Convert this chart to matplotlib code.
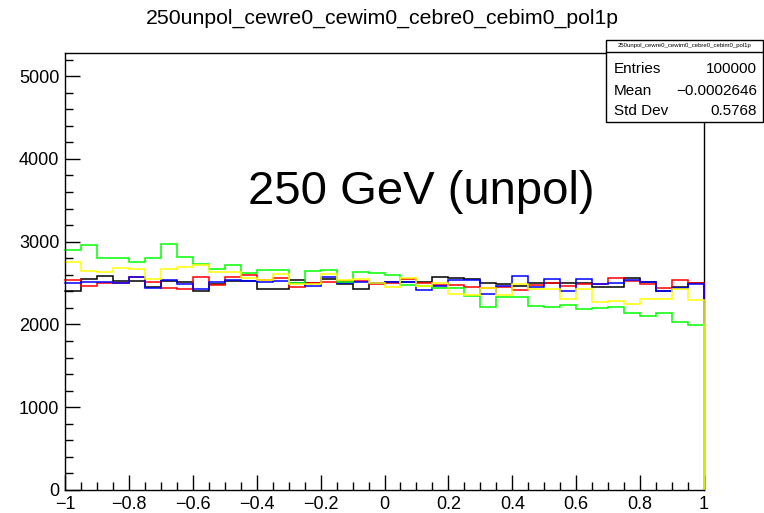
import numpy as np
import matplotlib
matplotlib.use("Agg")
import matplotlib.pyplot as plt
from matplotlib.ticker import MultipleLocator

plt.rcParams['font.family'] = ['Liberation Sans', 'DejaVu Sans']

edges = np.linspace(-1.0, 1.0, 41)

black = [2407, 2544, 2585, 2524, 2524, 2455, 2528, 2516, 2403, 2484,
         2524, 2524, 2423, 2423, 2536, 2504, 2544, 2488, 2427, 2496,
         2508, 2508, 2508, 2577, 2564, 2546, 2504, 2488, 2463, 2504,
         2504, 2504, 2504, 2454, 2450, 2565, 2515, 2400, 2455, 2500]
red = [2536, 2463, 2504, 2504, 2568, 2516, 2443, 2427, 2577, 2476,
       2577, 2597, 2540, 2564, 2455, 2504, 2516, 2524, 2528, 2488,
       2496, 2548, 2504, 2476, 2476, 2450, 2442, 2454, 2422, 2476,
       2504, 2463, 2483, 2483, 2558, 2529, 2483, 2446, 2537, 2504]
blue = [2504, 2516, 2516, 2496, 2577, 2443, 2536, 2484, 2423, 2508,
        2536, 2528, 2516, 2524, 2496, 2463, 2577, 2504, 2516, 2500,
        2508, 2508, 2415, 2467, 2540, 2540, 2368, 2463, 2590, 2454,
        2546, 2405, 2546, 2483, 2505, 2537, 2517, 2405, 2446, 2483]
green = [2895, 2965, 2800, 2800, 2757, 2798, 2975, 2818, 2735, 2675,
         2717, 2620, 2660, 2657, 2504, 2649, 2657, 2510, 2637, 2625,
         2597, 2476, 2468, 2436, 2436, 2350, 2215, 2331, 2331, 2227,
         2215, 2239, 2186, 2198, 2215, 2144, 2103, 2144, 2033, 1993]
yellow = [2757, 2649, 2637, 2677, 2665, 2544, 2665, 2689, 2717, 2637,
          2637, 2556, 2536, 2608, 2484, 2484, 2608, 2536, 2544, 2496,
          2448, 2556, 2463, 2496, 2367, 2351, 2442, 2359, 2483, 2434,
          2434, 2309, 2434, 2268, 2280, 2247, 2309, 2309, 2434, 2297]

series = [(black, 'black'), (red, '#ff0000'), (blue, '#0000ff'),
          (green, '#00ff00'), (yellow, '#ffff00')]

title = "250unpol_cewre0_cewim0_cebre0_cebim0_pol1p"
stats_labels = ["Entries", "Mean", "Std Dev"]
stats_values = ["100000", "\u22120.0002646", "0.5768"]
annotation = "250 GeV (unpol)"

W, H = 764, 513
fig = plt.figure(figsize=(W / 100, H / 100), dpi=100)
ax = fig.add_axes([65 / W, 1 - 490 / H, (704 - 65) / W, (490 - 53) / H])

for vals, col in series:
    v = np.asarray(vals, dtype=float)
    # ROOT-like outline: steps, then a drop to zero at the upper edge
    xs = np.repeat(edges, 2)[1:]
    ys = np.concatenate([np.repeat(v, 2), [0.0]])
    ax.plot(xs, ys, color=col, lw=1.1, zorder=3, clip_on=False,
            solid_joinstyle='miter')

ax.set_xlim(-1, 1)
ax.set_ylim(0, 5280)
ax.xaxis.set_major_locator(MultipleLocator(0.2))
ax.xaxis.set_minor_locator(MultipleLocator(0.05))
ax.yaxis.set_major_locator(MultipleLocator(1000))
ax.yaxis.set_minor_locator(MultipleLocator(200))
ax.tick_params(which='both', direction='in', top=False, right=False,
               labelsize=13, width=1)
ax.tick_params(which='major', length=11, pad=4)
ax.tick_params(which='minor', length=5.5)

def fmt(v, pos):
    s = f"{v:g}"
    if abs(v) < 1e-9:
        s = "0"
    return s.replace("-", "\u2212")
ax.xaxis.set_major_formatter(plt.FuncFormatter(fmt))

for name, sp in ax.spines.items():
    sp.set_linewidth(1.0)
ax.spines['left'].set_zorder(5)
ax.spines['bottom'].set_zorder(5)
ax.spines['right'].set_zorder(1)

ax.text(-0.427, 3600, annotation, fontsize=34, ha='left', va='center')

fig.text(0.5, 1 - 18 / H, title, fontsize=15.3, ha='center', va='center')

# stats box
x0, x1 = 606 / W, 763 / W
y0, y1 = 1 - 122 / H, 1 - 40 / H
ysep = 1 - 52 / H
box = plt.Rectangle((x0, y0), x1 - x0, y1 - y0, transform=fig.transFigure,
                    facecolor='white', edgecolor='black', lw=1.0, zorder=10)
fig.add_artist(box)
fig.add_artist(plt.Line2D([x0, x1], [ysep, ysep], transform=fig.transFigure,
                          color='black', lw=1.0, zorder=11))
fig.text((x0 + x1) / 2, 1 - 46 / H, title, fontsize=4.3, ha='center',
         va='center', zorder=12)
rows_y = [69, 91, 111]
for lab, val, yy in zip(stats_labels, stats_values, rows_y):
    fig.text(614 / W, 1 - yy / H, lab, fontsize=11, ha='left', va='center', zorder=12)
    fig.text(757 / W, 1 - yy / H, val, fontsize=11, ha='right', va='center', zorder=12)

fig.savefig("out.png", dpi=100)
